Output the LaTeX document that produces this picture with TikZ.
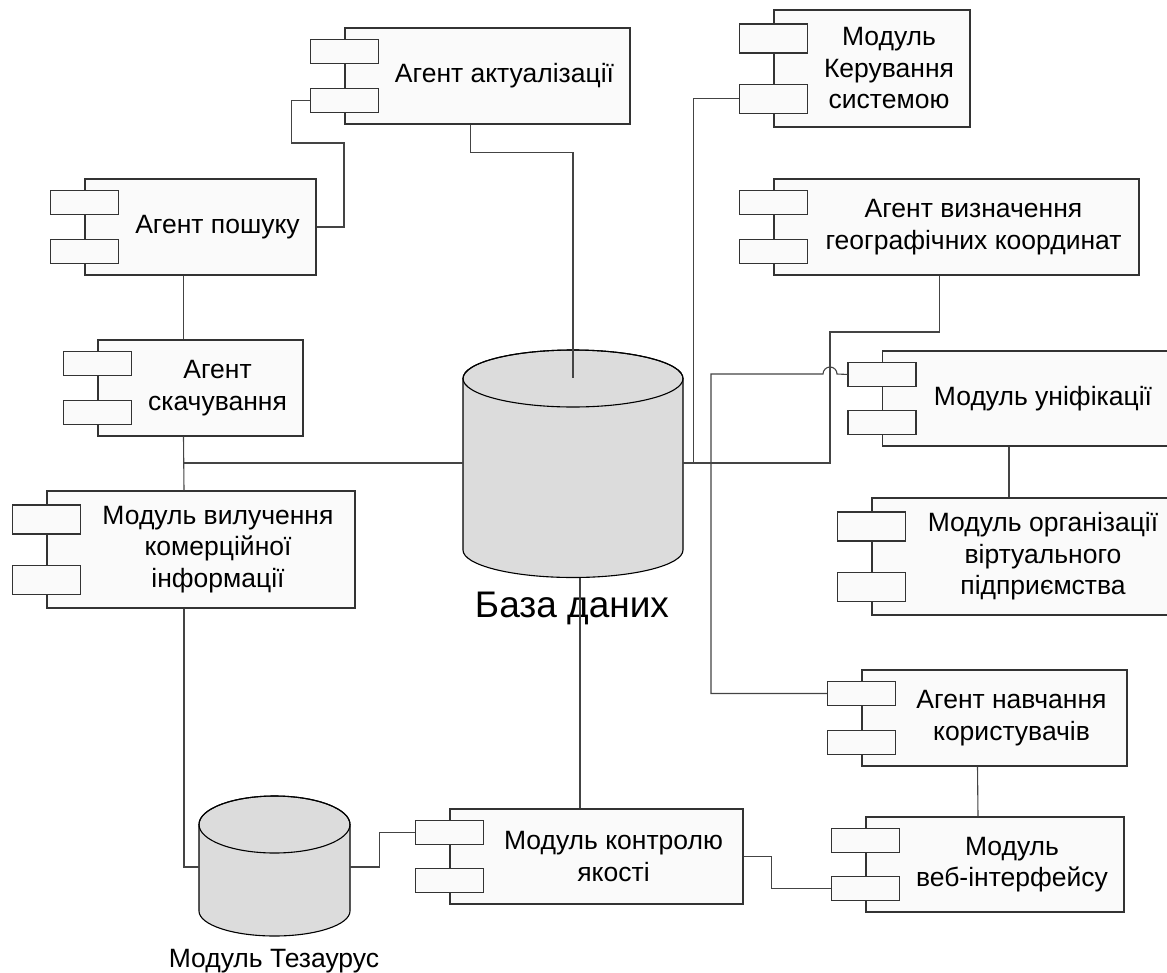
\documentclass[tikz,border=0pt]{standalone}
\usepackage{fontspec}
\setmainfont{Liberation Sans}

\definecolor{boxfill}{HTML}{FAFAFA}
\definecolor{dbfill}{HTML}{DCDCDC}
\definecolor{edgegray}{HTML}{333333}
\definecolor{linkgray}{HTML}{444444}

\begin{document}
\begin{tikzpicture}[x=1pt, y=-1pt,
    compbox/.style={draw=edgegray, fill=boxfill, line width=1.1pt, inner sep=0},
    port/.style={draw=edgegray, fill=boxfill, line width=1.1pt, inner sep=0,
                 minimum width=68, minimum height=24},
    tallport/.style={port, minimum height=29},
    comptext/.style={font=\fontsize{26.5}{31.5}\selectfont, align=center, inner sep=0},
    dbnode/.style={inner sep=0},
    cyl/.style={draw=black, fill=dbfill, line width=1.1pt},
    link/.style={draw=linkgray, line width=1.1pt}]
        \useasboundingbox (0,0) rectangle (1167,972);

        % Бази даних
        \filldraw[cyl] (463,378.5) -- (463,550)
            arc[start angle=180, end angle=360, x radius=110pt, y radius=27.5pt]
            -- (683,378.5)
            arc[start angle=0, end angle=180, x radius=110pt, y radius=28.5pt] -- cycle;
        \draw[cyl, fill=none] (573,378.5) ellipse[x radius=110pt, y radius=28.5pt];
        \node[dbnode, minimum width=220, minimum height=230] (db) at (573,463) {};
        \coordinate (db-in) at ([yshift=-30]db.north);
        \coordinate (db-out) at ([xshift=7]db.south);
        \node[font=\fontsize{37}{44}\selectfont, anchor=base] (db-t) at (572,617) {База даних};

        \filldraw[cyl] (199,824.5) -- (199,911)
            arc[start angle=180, end angle=360, x radius=75.5pt, y radius=25pt]
            -- (350,824.5)
            arc[start angle=0, end angle=180, x radius=75.5pt, y radius=28.5pt] -- cycle;
        \draw[cyl, fill=none] (274.5,824.5) ellipse[x radius=75.5pt, y radius=28.5pt];
        \node[dbnode, minimum width=151, minimum height=142] (tez) at (274.5,867) {};
        \node[comptext, anchor=base] (tez-t) at (274,967) {Модуль Тезаурус};

        % Компоненти зліва
        \node[compbox, minimum width=285, minimum height=96] (akt) at (487.5,76) {};
        \node[port] (akt-a) at ([yshift=-24]akt.north west) {};
        \node[port] (akt-b) at ([yshift=24]akt.south west) {};
        \node[comptext] (akt-t) at ([xshift=17]akt.center) {Агент актуалізації};

        \node[compbox, minimum width=231, minimum height=96] (posh) at (200.5,227) {};
        \node[port] (posh-a) at ([yshift=-24]posh.north west) {};
        \node[port] (posh-b) at ([yshift=24]posh.south west) {};
        \node[comptext] (posh-t) at ([xshift=17]posh.center) {Агент пошуку};

        \node[compbox, minimum width=205, minimum height=96] (skach) at (200.5,388) {};
        \node[port] (skach-a) at ([yshift=-24]skach.north west) {};
        \node[port] (skach-b) at ([yshift=24]skach.south west) {};
        \node[comptext] (skach-t) at ([xshift=17]skach.center) {Агент\\скачування};

        \node[compbox, minimum width=308, minimum height=117] (vyl) at (201,549.5) {};
        \node[tallport] (vyl-a) at ([yshift=-29]vyl.north west) {};
        \node[tallport] (vyl-b) at ([yshift=29]vyl.south west) {};
        \node[comptext] (vyl-t) at ([xshift=17]vyl.center) {Модуль вилучення\\комерційної\\інформації};

        \node[compbox, minimum width=293, minimum height=95] (kontr) at (596.5,856.5) {};
        \node[port] (kontr-a) at ([yshift=-24]kontr.north west) {};
        \node[port] (kontr-b) at ([yshift=24]kontr.south west) {};
        \node[comptext] (kontr-t) at ([xshift=17]kontr.center) {Модуль контролю\\якості};

        % Компоненти справа
        \node[compbox, minimum width=196, minimum height=117] (keruv) at (872,68.5) {};
        \node[tallport] (keruv-a) at ([yshift=-29]keruv.north west) {};
        \node[tallport] (keruv-b) at ([yshift=29]keruv.south west) {};
        \node[comptext] (keruv-t) at ([xshift=17]keruv.center) {Модуль\\Керування\\системою};

        \node[compbox, minimum width=365, minimum height=96] (vyzn) at (956.5,227) {};
        \node[port] (vyzn-a) at ([yshift=-24]vyzn.north west) {};
        \node[port] (vyzn-b) at ([yshift=24]vyzn.south west) {};
        \node[comptext] (vyzn-t) at ([xshift=17]vyzn.center) {Агент визначення\\географічних координат};

        \node[compbox, minimum width=287, minimum height=95] (unif) at (1026,398.5) {};
        \node[port] (unif-a) at ([yshift=-24]unif.north west) {};
        \node[port] (unif-b) at ([yshift=24]unif.south west) {};
        \node[comptext] (unif-t) at ([xshift=17]unif.center) {Модуль уніфікації};

        \node[compbox, minimum width=308, minimum height=117] (orh) at (1026,556.5) {};
        \node[tallport] (orh-a) at ([yshift=-29]orh.north west) {};
        \node[tallport] (orh-b) at ([yshift=29]orh.south west) {};
        \node[comptext] (orh-t) at ([xshift=17]orh.center) {Модуль організації\\віртуального\\підприємства};

        \node[compbox, minimum width=265, minimum height=96] (navch) at (994.5,718) {};
        \node[port] (navch-a) at ([yshift=-24]navch.north west) {};
        \node[port] (navch-b) at ([yshift=24]navch.south west) {};
        \node[comptext] (navch-t) at ([xshift=17]navch.center) {Агент навчання\\користувачів};

        \node[compbox, minimum width=258, minimum height=95] (veb) at (995,864.5) {};
        \node[port] (veb-a) at ([yshift=-24]veb.north west) {};
        \node[port] (veb-b) at ([yshift=24]veb.south west) {};
        \node[comptext] (veb-t) at ([xshift=17]veb.center) {Модуль\\веб-інтерфейсу};

        % Зв'язки
        \draw[link] (akt-b.west) -- ++(-18,0) |- (344,143) |- (posh.east);
        \draw[link] ([xshift=-17]akt.south) -- ++(0,28) -| (db-in);
        \draw[link] ([xshift=-17]posh.south) -- ([xshift=-17]skach.north);
        \draw[link] ([xshift=-17]skach.south) -- ([xshift=-17]vyl.north);
        \draw[link] ([xshift=-17]skach.south) |- (db.west);
        \draw[link] ([xshift=-17]vyl.south) |- (tez.west);
        \draw[link] (tez.east) -- ++(29,0) |- (kontr-a.west);
        \draw[link] (db-out) -- (db-out |- kontr.north);
        \draw[link] (keruv-b.west) -| ([xshift=10]db.east);
        \draw[link] (db.east) -| (830,332) -| ([xshift=-17]vyzn.south);
        \draw[link] (unif-a.west) -- (837,374)
            arc[start angle=0, end angle=180, radius=7pt] -- (711,374) |- (navch-a.west);
        \draw[link] ([xshift=-17]unif.south) -- ([xshift=-17]orh.north);
        \draw[link] ([xshift=-17]navch.south) -- ([xshift=-17]veb.north);
        \draw[link] (kontr.east) -- ++(28,0) |- (veb-b.west);
    \end{tikzpicture}
\end{document}
